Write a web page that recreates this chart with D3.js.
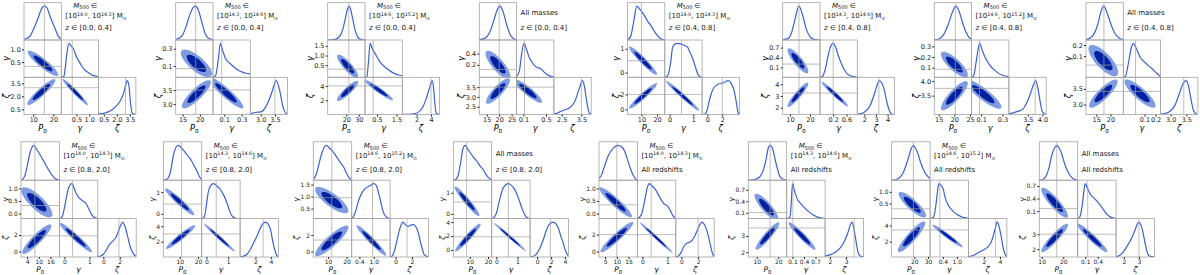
<!DOCTYPE html>
<html><head><meta charset="utf-8">
<script src="https://cdn.jsdelivr.net/npm/d3@7"></script>
<style>
body{margin:0;background:#fff;}
svg{display:block;font-family:"DejaVu Sans",sans-serif;}
</style></head><body>
<svg id="chart" width="1200" height="275"></svg>
<script>
// ---------- DATA (16 panels: 8 top row, 8 bottom row) ----------
const massBins = [["14.0","14.3"],["14.3","14.6"],["14.6","15.2"],null,["14.0","14.3"],["14.3","14.6"],["14.6","15.2"],null,
                  ["14.0","14.3"],["14.3","14.6"],["14.6","15.2"],null,["14.0","14.3"],["14.3","14.6"],["14.6","15.2"],null];
const zBins = [["0.0","0.4"],["0.0","0.4"],["0.0","0.4"],["0.0","0.4"],["0.4","0.8"],["0.4","0.8"],["0.4","0.8"],["0.4","0.8"],
               ["0.8","2.0"],["0.8","2.0"],["0.8","2.0"],["0.8","2.0"],null,null,null,null];

const p0Domains = [[5.4,23.9],[13,23.8],[5,35],[12,27],[1,25],[6.4,25],[13.6,25.5],[11.4,24.5],
                   [0.9,20.6],[1,22],[2,22.8],[1,22],[2.4,18.8],[6.1,23.9],[3.5,31.5],[8.9,26.7]];
const p0Ticks = [[10,20],[15,20],[20,30],[15,20,25],[10,20],[10,20],[15,20,25],[15,20],
                 [4,10,16],[10,20],[10,20],[10,20],[5,10,15],[10,20],[20,30],[10,20]];
const gDomains = [[-0.1,1.37],[-0.03,0.40],[-0.12,1.8],[-0.02,0.64],[-0.2,1.37],[-0.2,0.93],[0.01,0.36],[-0.09,0.245],
                  [-0.2,1.33],[-0.22,1.55],[0.08,1.68],[-0.22,1.6],[-0.2,1.33],[-0.05,0.95],[-0.15,1.5],[-0.08,0.84]];
const gTicksX = [[0.5,1.0],[0.1,0.3],[0.5,1.5],[0.1,0.5],[0,1],[0.2,0.6],[0.1,0.3],[0.1,0.2],
                 [0,1],[0,1],[0.4,1.0],[0,1],[0,1],[0.1,0.4,0.7],[0.4,1.0],[0.1,0.4]];
const gTicksY = [[0.5,1.0],[0.1,0.3],[0.5,1.0,1.5],[0.2,0.4],[0,1],[0.1,0.4,0.7],[0.1,0.2,0.3],[0.1,0.2],
                 [0.0,0.5,1.0],[0,1],[0.5,1.0,1.5],[0,1],[0.0,0.5,1.0],[0.1,0.4,0.7],[0.5,1.0],[0.1,0.4,0.7]];
const zDomains = [[-0.1,4.2],[2.63,3.95],[0,5.2],[2.1,4.0],[-0.7,4.3],[1.4,4.6],[2.85,4.13],[2.68,3.87],
                  [-0.67,4.0],[0,5.0],[-0.66,4.0],[-1.0,4.5],[-0.65,3.9],[1.7,4.08],[0.1,4.85],[1.48,4.04]];
const zTicksX = [[0.5,2.0,3.5],[3.0,3.5],[2,4],[2.5,3.5],[0,2],[2,3,4],[3.5,4.0],[3.0,3.5],
                 [0,2],[2,4],[0,2],[0,2,4],[0,2],[2,3],[2,4],[2,3]];
const zTicksY = [[0.5,2.0,3.5],[3.0,3.5],[2,4],[2.5,3.0,3.5],[0,2],[2,3,4],[3.5,4.0],[3.0,3.5],
                 [0,2],[2,4],[0,2],[0,2,4],[0,2],[2,3],[2,4],[2,3]];
// reference values [P0, gamma, zeta]
const truths = [[15.5,0.33,3.0],[18.8,0.07,3.5],[22,0.3,4.0],[20,0.12,3.5],[10,0.5,2.0],[14.5,0.2,3.25],[20.3,0.085,3.75],[17.7,0.02,3.42],
                [8,0.32,1.9],[11,0.45,3.0],[12,0.95,1.4],[8.3,0.57,1.9],[10,0.35,2.0],[16.2,0.11,3.5],[19.3,0.27,3.45],[17,0.16,3.0]];

// 1D marginal curves [value, relative density]
const p0Curves = [
 [[5.4,0.02],[7,0.05],[8.5,0.12],[10.3,0.34],[12.7,0.7],[14.3,0.95],[15.5,1.0],[16.8,0.95],[18.3,0.7],[20.8,0.34],[22.5,0.1],[23.9,0.03]],
 [[13,0.02],[14,0.05],[15,0.15],[16,0.4],[17,0.72],[18,0.95],[18.7,1.0],[19.5,0.9],[20.5,0.55],[21.5,0.2],[22.5,0.05],[23.8,0.01]],
 [[5,0],[10,0.01],[14,0.08],[17,0.3],[19,0.6],[21,0.92],[22,1.0],[23,0.95],[25,0.65],[27,0.3],[29,0.1],[31,0.03],[35,0]],
 [[12,0.01],[14,0.04],[16,0.2],[17.5,0.5],[19,0.85],[20.2,1.0],[21.5,0.85],[23,0.45],[24.5,0.15],[26,0.03],[27,0.01]],
 [[1,0.01],[3,0.1],[5,0.55],[7,1.0],[9,0.9],[11.5,0.75],[14,0.55],[16,0.43],[19,0.2],[22,0.05],[25,0]],
 [[6.4,0.01],[9,0.04],[11,0.25],[12.5,0.6],[14.5,1.0],[16.5,0.7],[18,0.35],[20,0.1],[22,0.02],[25,0]],
 [[13.6,0.01],[15,0.03],[16.5,0.15],[18,0.45],[19.5,0.85],[20.5,1.0],[21.5,0.85],[23,0.4],[24.5,0.1],[25.5,0.03]],
 [[11.4,0.01],[12.5,0.04],[14,0.15],[15.5,0.45],[16.7,0.85],[17.6,1.0],[18.6,0.85],[20,0.5],[21.5,0.2],[23,0.06],[24.5,0.01]],
 [[0.9,0],[2,0.04],[3,0.15],[4,0.38],[5.5,0.78],[7.5,1.0],[9,0.88],[11.5,0.65],[13.5,0.45],[15,0.3],[17,0.13],[18.5,0.04],[20.6,0]],
 [[1,0],[3,0.03],[4.7,0.2],[6.5,0.7],[8,0.95],[9.3,1.0],[11,0.92],[13,0.8],[15,0.66],[16.5,0.55],[18,0.4],[19.5,0.25],[21,0.08],[22,0.03]],
 [[2,0.02],[3.8,0.2],[5,0.45],[6.5,0.75],[8,0.95],[9.2,1.0],[10.5,0.93],[12,0.86],[14,0.72],[15.5,0.6],[17,0.48],[18.5,0.37],[20,0.2],[21.5,0.06],[22.8,0.01]],
 [[1,0],[2.5,0.03],[3.7,0.15],[5,0.5],[6.2,0.88],[7.4,1.0],[8.8,0.9],[10.1,0.8],[12,0.66],[13.8,0.55],[15.5,0.42],[17.4,0.3],[19,0.15],[20.5,0.06],[22,0.01]],
 [[2.4,0.05],[3.5,0.15],[5,0.45],[6.5,0.72],[8.5,0.92],[10.5,1.0],[12.5,0.93],[13.8,0.75],[15,0.5],[16,0.3],[17,0.14],[18,0.04],[18.8,0]],
 [[6.1,0],[9,0.02],[11.5,0.1],[13,0.28],[14.2,0.55],[15.4,0.93],[16.2,1.0],[17,0.95],[17.7,0.83],[18.5,0.6],[19.3,0.4],[20.3,0.17],[21.5,0.05],[23.9,0]],
 [[3.5,0],[7,0.02],[10,0.1],[12,0.23],[14,0.43],[16,0.68],[18,0.93],[19.3,1.0],[21,0.9],[22.9,0.73],[24.5,0.52],[26.5,0.32],[28,0.2],[30,0.1],[31.5,0.04]],
 [[8.9,0],[10.5,0.02],[12.3,0.15],[13.5,0.38],[14.6,0.7],[16,0.93],[17,1.0],[18,0.93],[19.3,0.75],[20.5,0.5],[21.6,0.32],[23,0.15],[24.5,0.05],[26.7,0]]
];
const gCurves = [
 [[-0.1,0],[0.0,0.02],[0.05,0.25],[0.12,0.7],[0.2,1.0],[0.28,0.93],[0.37,0.85],[0.5,0.6],[0.6,0.47],[0.7,0.34],[0.85,0.2],[0.96,0.14],[1.1,0.07],[1.23,0.04],[1.37,0.01]],
 [[-0.03,0],[0.0,0.05],[0.03,0.5],[0.055,1.0],[0.08,0.8],[0.115,0.55],[0.17,0.4],[0.23,0.27],[0.29,0.17],[0.35,0.12],[0.40,0.1]],
 [[-0.12,0],[-0.02,0.02],[0.05,0.4],[0.15,1.0],[0.25,0.85],[0.42,0.68],[0.66,0.45],[1.0,0.26],[1.33,0.13],[1.67,0.06],[1.8,0.05]],
 [[-0.02,0.02],[0.03,0.2],[0.07,0.7],[0.11,1.0],[0.15,0.85],[0.2,0.6],[0.27,0.4],[0.33,0.3],[0.4,0.26],[0.47,0.15],[0.55,0.05],[0.64,0.01]],
 [[-0.2,0],[-0.1,0.03],[0.04,0.4],[0.12,0.85],[0.2,0.97],[0.35,1.0],[0.5,0.98],[0.65,0.93],[0.75,0.9],[0.85,0.75],[0.95,0.6],[1.09,0.3],[1.2,0.08],[1.3,0.01],[1.37,0]],
 [[-0.2,0],[-0.12,0.03],[-0.05,0.2],[0.05,0.65],[0.12,0.9],[0.19,1.0],[0.27,0.9],[0.35,0.65],[0.45,0.4],[0.55,0.2],[0.65,0.08],[0.8,0.02],[0.93,0]],
 [[0.01,0],[0.03,0.05],[0.055,0.5],[0.085,1.0],[0.11,0.8],[0.135,0.6],[0.18,0.36],[0.245,0.16],[0.3,0.06],[0.36,0.02]],
 [[-0.09,0],[-0.07,0.03],[-0.045,0.4],[-0.02,0.85],[0.0,1.0],[0.02,0.9],[0.06,0.6],[0.1,0.45],[0.14,0.33],[0.17,0.25],[0.21,0.12],[0.245,0.02]],
 [[-0.2,0],[-0.1,0.04],[0.04,0.45],[0.15,0.85],[0.3,1.0],[0.45,0.75],[0.6,0.58],[0.75,0.5],[0.85,0.44],[0.97,0.28],[1.1,0.1],[1.2,0.03],[1.33,0]],
 [[-0.22,0],[-0.1,0.05],[0.0,0.4],[0.08,0.75],[0.2,0.95],[0.32,1.0],[0.45,0.95],[0.62,0.85],[0.75,0.72],[0.85,0.6],[0.97,0.4],[1.08,0.2],[1.2,0.06],[1.35,0.01],[1.55,0]],
 [[0.08,0],[0.15,0.05],[0.25,0.22],[0.36,0.5],[0.5,0.73],[0.63,0.85],[0.84,0.94],[1.0,1.0],[1.1,0.95],[1.25,0.6],[1.39,0.2],[1.53,0.04],[1.68,0]],
 [[-0.22,0],[-0.1,0.04],[0.0,0.15],[0.16,0.55],[0.3,0.85],[0.45,0.97],[0.57,1.0],[0.7,0.96],[0.85,0.85],[1.04,0.6],[1.2,0.32],[1.3,0.17],[1.43,0.04],[1.6,0]],
 [[-0.2,0],[-0.05,0.1],[0.1,0.55],[0.2,0.9],[0.27,1.0],[0.4,0.92],[0.5,0.85],[0.7,0.6],[0.85,0.43],[1.0,0.36],[1.1,0.25],[1.2,0.1],[1.3,0.02]],
 [[-0.05,0],[0.03,0.03],[0.06,0.3],[0.09,0.85],[0.11,1.0],[0.14,0.85],[0.21,0.6],[0.34,0.4],[0.47,0.25],[0.64,0.1],[0.82,0.02],[0.95,0]],
 [[-0.15,0],[-0.02,0.03],[0.07,0.25],[0.13,0.55],[0.19,0.9],[0.24,1.0],[0.32,0.95],[0.41,0.85],[0.5,0.6],[0.56,0.48],[0.68,0.33],[0.78,0.25],[0.9,0.17],[1.06,0.1],[1.25,0.04],[1.5,0.01]],
 [[-0.08,0],[-0.03,0.04],[0.03,0.4],[0.07,0.8],[0.1,1.0],[0.14,0.9],[0.18,0.8],[0.24,0.67],[0.3,0.6],[0.38,0.5],[0.45,0.4],[0.54,0.25],[0.62,0.12],[0.7,0.05],[0.84,0]]
];
const zCurves = [
 [[-0.1,0.02],[0.5,0.04],[1.0,0.08],[1.5,0.15],[2.0,0.27],[2.5,0.45],[2.8,0.65],[3.0,0.85],[3.2,1.0],[3.4,0.85],[3.6,0.3],[3.8,0.03],[4.2,0]],
 [[2.63,0.02],[2.84,0.07],[3.01,0.08],[3.19,0.25],[3.37,0.6],[3.55,1.0],[3.66,0.75],[3.78,0.25],[3.9,0.03],[3.95,0.01]],
 [[0,0.01],[1.0,0.01],[1.8,0.03],[2.3,0.08],[2.8,0.2],[3.3,0.45],[3.7,0.72],[4.0,0.92],[4.15,1.0],[4.35,0.8],[4.55,0.3],[4.75,0.03],[5.2,0]],
 [[2.1,0.01],[2.2,0.03],[2.4,0.08],[2.6,0.13],[2.9,0.2],[3.15,0.37],[3.4,0.78],[3.55,1.0],[3.65,0.85],[3.77,0.4],[3.9,0.05],[4.0,0.01]],
 [[-0.7,0],[-0.3,0.02],[0.0,0.15],[0.2,0.35],[0.5,0.6],[0.9,0.8],[1.5,0.9],[2.2,0.94],[2.8,1.0],[3.2,0.92],[3.6,0.7],[3.9,0.35],[4.1,0.08],[4.3,0]],
 [[1.4,0],[1.6,0.02],[2.0,0.07],[2.5,0.27],[2.9,0.65],[3.15,0.92],[3.3,1.0],[3.5,0.93],[3.7,0.75],[3.95,0.35],[4.2,0.08],[4.4,0.01],[4.6,0]],
 [[2.85,0.02],[3.1,0.08],[3.34,0.17],[3.5,0.42],[3.62,0.7],[3.7,0.9],[3.77,1.0],[3.85,0.75],[3.92,0.4],[4.0,0.08],[4.13,0]],
 [[2.68,0.01],[2.85,0.04],[2.98,0.1],[3.14,0.28],[3.3,0.68],[3.41,0.94],[3.5,1.0],[3.58,0.8],[3.65,0.45],[3.73,0.12],[3.83,0.01],[3.87,0]],
 [[-0.67,0],[-0.4,0.02],[0.0,0.08],[0.25,0.15],[0.6,0.3],[0.9,0.4],[1.2,0.47],[1.5,0.55],[1.8,0.72],[2.1,0.9],[2.35,1.0],[2.6,0.9],[2.9,0.65],[3.2,0.35],[3.5,0.16],[3.8,0.05],[4.0,0.02]],
 [[0,0],[0.4,0.02],[0.9,0.08],[1.3,0.2],[1.8,0.42],[2.2,0.6],[2.8,0.9],[3.3,1.0],[3.9,0.83],[4.3,0.4],[4.7,0.08],[5.0,0]],
 [[-0.66,0],[-0.4,0.03],[-0.1,0.2],[0.12,0.42],[0.5,0.8],[0.9,1.0],[1.2,0.92],[1.55,0.88],[1.9,0.92],[2.2,0.93],[2.5,0.85],[2.76,0.7],[3.0,0.45],[3.2,0.28],[3.5,0.06],[4.0,0]],
 [[-1.0,0],[-0.5,0.02],[-0.05,0.1],[0.4,0.25],[0.9,0.5],[1.3,0.75],[1.8,0.95],[2.3,1.0],[2.7,0.95],[3.0,0.85],[3.4,0.6],[3.75,0.4],[4.0,0.22],[4.25,0.1],[4.5,0.03]],
 [[-0.65,0],[-0.3,0.04],[0.0,0.14],[0.3,0.3],[0.7,0.4],[1.0,0.42],[1.3,0.48],[1.7,0.65],[2.1,0.88],[2.45,1.0],[2.8,0.9],[3.1,0.7],[3.4,0.4],[3.7,0.1],[3.9,0.02]],
 [[1.7,0.03],[2.0,0.06],[2.2,0.1],[2.6,0.24],[2.9,0.45],[3.1,0.68],[3.25,0.9],[3.35,1.0],[3.45,0.9],[3.6,0.5],[3.75,0.12],[3.9,0.02],[4.08,0]],
 [[0.1,0.01],[0.5,0.03],[1.0,0.08],[1.5,0.15],[2.0,0.21],[2.4,0.27],[2.8,0.38],[3.1,0.55],[3.4,0.82],[3.6,0.98],[3.7,1.0],[3.9,0.85],[4.1,0.65],[4.4,0.25],[4.7,0.05],[4.85,0.01]],
 [[1.48,0],[1.7,0.04],[1.96,0.15],[2.2,0.3],[2.41,0.45],[2.6,0.62],[2.74,0.77],[2.9,0.95],[3.0,1.0],[3.1,0.95],[3.19,0.85],[3.3,0.65],[3.41,0.4],[3.55,0.14],[3.7,0.03],[4.04,0]]
];

// 2D posteriors: [meanX, meanY, 95% half-extent X, 95% half-extent Y, correlation]
const ellPG = [[14.8,0.45,7.6,0.5,-0.9],[19,0.13,4.5,0.16,-0.75],[21,0.45,8.5,0.6,-0.85],[19.5,0.2,5,0.25,-0.8],
               [11,0.5,9,0.6,-0.95],[14,0.3,5.2,0.38,-0.85],[20,0.13,4.3,0.12,-0.8],[17.5,0.06,5.2,0.14,-0.75],
               [9,0.45,8,0.6,-0.8],[10,0.55,8,0.62,-0.95],[12,0.85,9,0.55,-0.8],[8.5,0.6,6.8,0.7,-0.95],
               [9.5,0.45,7,0.6,-0.93],[14.5,0.25,5.5,0.35,-0.85],[18.5,0.45,10,0.55,-0.85],[16,0.3,6.2,0.36,-0.88]];
const ellPZ = [[14,2.5,7,1.5,0.92],[19,3.35,4.2,0.5,0.85],[21,3.3,8.5,1.4,0.88],[19.5,3.3,4.8,0.65,0.85],
               [11,1.8,9,1.7,0.95],[14,3.1,5.2,1.05,0.92],[20,3.5,4.3,0.5,0.85],[17.5,3.35,5.0,0.45,0.85],
               [9,1.5,7.5,1.8,0.9],[10.5,2.6,8,1.55,0.95],[12,1.3,9,1.85,0.88],[9,1.8,7,2.0,0.95],
               [10,1.7,7,1.8,0.94],[15,3.0,5.5,0.85,0.92],[18,2.6,10,1.9,0.9],[16,2.75,6.2,0.95,0.92]];
const ellGZ = [[0.45,2.5,0.5,1.5,-0.97],[0.12,3.4,0.2,0.55,-0.92],[0.6,3.4,0.72,1.4,-0.95],[0.18,3.3,0.25,0.6,-0.9],
               [0.55,1.8,0.7,2.0,-0.98],[0.25,3.15,0.4,1.05,-0.97],[0.12,3.55,0.17,0.5,-0.88],[0.06,3.35,0.14,0.45,-0.85],
               [0.45,1.7,0.65,1.8,-0.96],[0.6,2.5,0.7,1.8,-0.985],[0.9,1.35,0.62,1.85,-0.96],[0.65,1.85,0.75,2.0,-0.99],
               [0.55,1.65,0.65,1.8,-0.99],[0.35,3.0,0.35,0.85,-0.95],[0.6,2.7,0.65,1.4,-0.97],[0.27,2.75,0.36,0.95,-0.95]];

// ---------- LAYOUT ----------
const topLefts = [24,175.7,327.7,479.3,627.5,782.7,934.3,1086];
const botLefts = [21,163.3,313.3,453.3,599,748.3,891.7,1039.3];
const rowTops = [2.7,141.8];
const cellSizes = [37.3,38.4];
const titleDy = [[4.8,15.8,27.8,12.8],[6.2,16.5,30.7,14.7]];
const xLabelDy = [16.2,15.3];
const tickFont = [6.5,6.0];
const labelFont = [8.2,7.6];

const LIGHT = "#7f9ce3", DARK = "#00209f", LINE = "#3b62d5", FRAME = "#a3a3a3", TRUTH = "#a0a0a0";

const svg = d3.select("#chart");
const defs = svg.append("defs");
cellSizes.forEach((c,k)=>defs.append("clipPath").attr("id","clip"+k).append("rect").attr("width",c).attr("height",c));

function fmtFor(t){ return t.every(Number.isInteger) ? d3.format("d") : d3.format(".1f"); }
function ellipsePts(e,k){
  const [mx,my,dx,dy,r]=e, q=Math.sqrt(1-r*r);
  return d3.range(0,97).map(n=>{const t=n/96*2*Math.PI;
    return [mx+k*dx*Math.cos(t), my+k*dy*(r*Math.cos(t)+q*Math.sin(t))];});
}

function addTitle(g,p,x0,dy){
  const m=massBins[p], z=zBins[p];
  const t=g.append("g").attr("font-size",7).attr("fill","#111");
  if(m){
    const l1=t.append("text").attr("x",x0+8).attr("y",dy[0]);
    l1.append("tspan").attr("font-style","italic").text("M");
    l1.append("tspan").attr("font-size",5).attr("dy",1.6).text("500");
    l1.append("tspan").attr("dy",-1.6).text(" \u2208");
    const l2=t.append("text").attr("x",x0).attr("y",dy[1]);
    l2.append("tspan").text("[10");
    l2.append("tspan").attr("font-size",4.8).attr("dy",-2.8).text(m[0]);
    l2.append("tspan").attr("dy",2.8).text(", 10");
    l2.append("tspan").attr("font-size",4.8).attr("dy",-2.8).text(m[1]);
    l2.append("tspan").attr("dy",2.8).text("] M");
    l2.append("tspan").attr("font-size",4.8).attr("dy",1.6).text("\u2299");
  } else {
    t.append("text").attr("x",x0).attr("y",dy[3]).text("All masses");
  }
  const l3=t.append("text").attr("x",x0).attr("y",dy[2]);
  if(z){ l3.append("tspan").attr("font-style","italic").text("z");
         l3.append("tspan").text(" \u2208 ["+z[0]+", "+z[1]+"]"); }
  else l3.text("All redshifts");
}

for(let p=0;p<16;p++){
  const row=p<8?0:1, col=p%8, c=cellSizes[row];
  const left=row?botLefts[col]:topLefts[col];
  const g=svg.append("g").attr("transform",`translate(${left},${rowTops[row]})`);
  const sx=[d3.scaleLinear().domain(p0Domains[p]).range([0,c]),
            d3.scaleLinear().domain(gDomains[p]).range([0,c]),
            d3.scaleLinear().domain(zDomains[p]).range([0,c])];
  const sy=[null,
            d3.scaleLinear().domain(gDomains[p]).range([c,0]),
            d3.scaleLinear().domain(zDomains[p]).range([c,0])];
  const yD=d3.scaleLinear().domain([0,1.1]).range([c,0]);
  const curves=[p0Curves[p],gCurves[p],zCurves[p]];
  const ells={"1,0":ellPG[p],"2,0":ellPZ[p],"2,1":ellGZ[p]};
  const tr=truths[p];
  for(let i=0;i<3;i++) for(let j=0;j<=i;j++){
    const cell=g.append("g").attr("transform",`translate(${j*c},${i*c})`);
    const inner=cell.append("g").attr("clip-path",`url(#clip${row})`);
    if(i===j){
      inner.append("path").datum(curves[i])
        .attr("d",d3.line().x(d=>sx[i](d[0])).y(d=>yD(d[1])).curve(d3.curveMonotoneX))
        .attr("fill","none").attr("stroke",LINE).attr("stroke-width",1.2);
    } else {
      const e=ells[i+","+j];
      const ln=d3.line().x(d=>sx[j](d[0])).y(d=>sy[i](d[1])).curve(d3.curveLinearClosed);
      inner.append("path").attr("d",ln(ellipsePts(e,1))).attr("fill",LIGHT);
      inner.append("path").attr("d",ln(ellipsePts(e,0.62))).attr("fill",DARK);
      inner.append("line").attr("x1",0).attr("x2",c).attr("y1",sy[i](tr[i])).attr("y2",sy[i](tr[i]))
        .attr("stroke",TRUTH).attr("stroke-width",0.7);
    }
    inner.append("line").attr("x1",sx[j](tr[j])).attr("x2",sx[j](tr[j])).attr("y1",0).attr("y2",c)
      .attr("stroke",TRUTH).attr("stroke-width",0.7);
    cell.append("rect").attr("width",c).attr("height",c).attr("fill","none")
      .attr("stroke",FRAME).attr("stroke-width",0.8);
  }
  // x axes
  const xt=[p0Ticks[p],gTicksX[p],zTicksX[p]];
  for(let j=0;j<3;j++){
    const ax=g.append("g").attr("transform",`translate(${j*c},${3*c})`)
      .call(d3.axisBottom(sx[j]).tickValues(xt[j]).tickFormat(fmtFor(xt[j])).tickSize(2).tickPadding(1.2));
    ax.select(".domain").remove();
    ax.attr("font-size",tickFont[row]).attr("font-family",null).attr("color","#222");
  }
  // y axes
  const yt=[null,gTicksY[p],zTicksY[p]];
  let maxW=0;
  for(let i=1;i<3;i++){
    const ay=g.append("g").attr("transform",`translate(0,${i*c})`)
      .call(d3.axisLeft(sy[i]).tickValues(yt[i]).tickFormat(fmtFor(yt[i])).tickSize(2).tickPadding(1.2));
    ay.select(".domain").remove();
    ay.attr("font-size",tickFont[row]).attr("font-family",null).attr("color","#222");
    ay.selectAll("text").each(function(){maxW=Math.max(maxW,this.getComputedTextLength());});
  }
  // axis labels
  const lblY=3*c+xLabelDy[row], lf=labelFont[row];
  const lp=g.append("text").attr("x",c*0.5).attr("y",lblY).attr("text-anchor","middle").attr("font-size",lf);
  lp.append("tspan").attr("font-style","italic").text("P");
  lp.append("tspan").attr("font-size",lf*0.7).attr("dy",1.8).text("0");
  g.append("text").attr("x",c*1.5).attr("y",lblY).attr("text-anchor","middle").attr("font-size",lf)
    .attr("font-style","italic").text("\u03b3");
  g.append("text").attr("x",c*2.5).attr("y",lblY).attr("text-anchor","middle").attr("font-size",lf)
    .attr("font-style","italic").text("\u03b6");
  const yl=Math.max(-(maxW+4.5), 7.5-left);
  g.append("text").attr("transform",`translate(${yl},${c*1.5}) rotate(-90)`).attr("text-anchor","middle")
    .attr("font-size",lf).attr("font-style","italic").text("\u03b3");
  g.append("text").attr("transform",`translate(${yl},${c*2.5}) rotate(-90)`).attr("text-anchor","middle")
    .attr("font-size",lf).attr("font-style","italic").text("\u03b6");
  addTitle(g,p,c+4,titleDy[row]);
}
</script>
</body></html>
